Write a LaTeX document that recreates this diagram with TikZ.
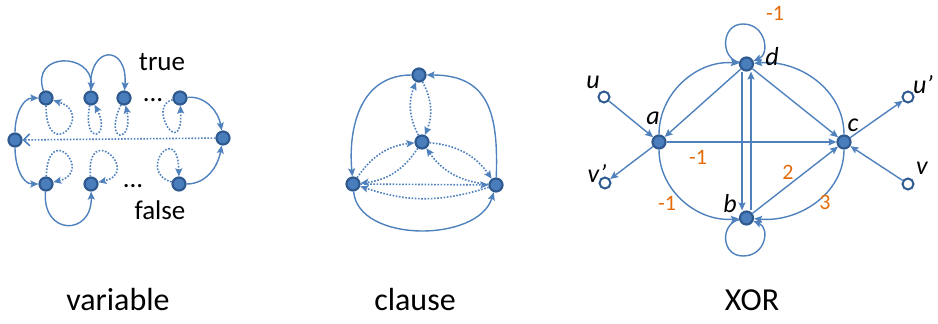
\documentclass[tikz,border=0pt]{standalone}
\usepackage{fontspec}
\setmainfont{Carlito}
\usetikzlibrary{arrows.meta}
\definecolor{edgeblue}{HTML}{4F81BD}
\definecolor{nodeline}{HTML}{2F5A8F}
\definecolor{nodefill}{HTML}{4A7DBB}
\definecolor{wt}{HTML}{E46C0A}
\begin{document}
\begin{tikzpicture}[x=1pt,y=1pt,
  vtx/.style={circle,draw=nodeline,fill=nodefill,line width=2.2pt,minimum size=13pt,inner sep=0pt},
  hol/.style={circle,draw=nodeline,fill=white,line width=2pt,minimum size=11pt,inner sep=0pt},
  arr/.style={draw=edgeblue,line width=1.4pt,-{Stealth[length=8pt,width=7pt,inset=1.5pt]}},
  dotarr/.style={arr,line width=1.6pt,dash pattern=on 1.6pt off 1.6pt},
  lab/.style={font=\fontsize{27}{30}\selectfont},
  biglab/.style={font=\fontsize{32}{36}\selectfont,anchor=base},
  itlab/.style={font=\fontsize{26}{30}\selectfont\itshape},
  wlab/.style={text=wt,font=\fontsize{22}{26}\selectfont},
]
\useasboundingbox (0,0) rectangle (938,324);

% ---------------- variable gadget ----------------
\node[vtx] (L) at (15,184) {};
\node[vtx] (T1) at (46,226) {};
\node[vtx] (T2) at (91,226) {};
\node[vtx] (T3) at (124,226) {};
\node[vtx] (T4) at (180,226) {};
\node[vtx] (R) at (223,186) {};
\node[vtx] (B1) at (46,140) {};
\node[vtx] (B2) at (91,140) {};
\node[vtx] (B4) at (179,140) {};

\draw[arr] (L) to[out=90,in=180] (T1);
\draw[arr] (L) to[out=-90,in=180] (B1);
\draw[arr] (T1) .. controls (30,272) and (92,272) .. (T2);
\draw[arr] (T2) .. controls (88,280) and (128,280) .. (T3);
\draw[arr] (T4) to[out=5,in=100] (R);
\draw[arr] (B4) to[out=0,in=-100] (R);
\draw[arr] (B1) .. controls (42,88) and (92,88) .. (B2);
\draw[dotarr,-{Straight Barb[length=6pt,width=12pt]}] (R) -- (L);

\draw[dotarr] (T1) .. controls (46,158) and (96,210) .. (T1);
\draw[dotarr] (T2) .. controls (82,176) and (112,186) .. (T2);
\draw[dotarr] (T3) .. controls (103,180) and (134,180) .. (T3);
\draw[dotarr] (T4) .. controls (146,218) and (183,162) .. (T4);
\draw[dotarr] (B1) .. controls (48,204) and (94,152) .. (B1);
\draw[dotarr] (B2) .. controls (86,204) and (142,152) .. (B2);
\draw[dotarr] (B4) .. controls (136,152) and (178,204) .. (B4);

\node[lab] (tru) at (162,262) {true};
\node[lab] (fal) at (160,114) {false};
\node[lab,anchor=base] (dt) at (153,222) {...};
\node[lab,anchor=base] (db) at (133,136) {...};
\node[biglab] (vl) at (118,13) {variable};

% ---------------- clause gadget ----------------
\node[vtx] (T) at (419,249) {};
\node[vtx] (C) at (422,182) {};
\node[vtx] (BL) at (353,140) {};
\node[vtx] (BR) at (496,139) {};
\draw[arr] (T) to[out=180,in=95,looseness=1.1] (BL);
\draw[arr] (BR) to[out=88,in=0,looseness=1.3] (T);
\draw[arr] (BL) .. controls (358,81) and (478,81) .. (BR);
\draw[dotarr] (C) to[bend left=25] (T);
\draw[dotarr] (T) to[bend left=25] (C);
\draw[dotarr] (BL) to[bend left=25] (C);
\draw[dotarr] (C) to[bend left=25] (BL);
\draw[dotarr] (C) to[bend left=25] (BR);
\draw[dotarr] (BR) to[bend left=25] (C);
\draw[dotarr] (BL) -- (BR);
\draw[dotarr] (BR) to[bend left=18] (BL);
\node[biglab] (cl) at (415,13) {clause};

% ---------------- XOR gadget ----------------
\node[vtx] (d) at (746.5,260) {};
\node[vtx] (a) at (659,182) {};
\node[vtx] (c) at (844,182) {};
\node[vtx] (b) at (746.5,106) {};
\node[hol] (u) at (604,227) {};
\node[hol] (vp) at (605,141) {};
\node[hol] (up) at (908,227) {};
\node[hol] (v) at (908,140) {};
\coordinate (dtop) at (743,300);
\coordinate (bbot) at (743,68);

\draw[arr] (a) to[out=90,in=175] (d);
\draw[arr] (c) to[out=90,in=5] (d);
\draw[arr] (a) to[out=-90,in=185] (b);
\draw[arr] (c) to[out=-90,in=-5] (b);
\draw[arr] (d) -- (a);
\draw[arr] (d) -- (c);
\draw[arr] (a) -- (c);
\draw[arr] (b) -- (c);
\draw[arr] ([xshift=-4.5pt]d.south) -- ([xshift=-4.5pt]b.north);
\draw[arr] ([xshift=4.5pt]b.north) -- ([xshift=4.5pt]d.south);
\draw[arr] (u) -- (a);
\draw[arr] (a) -- (vp);
\draw[arr] (c) -- (up);
\draw[arr] (v) -- (c);
\draw[arr] (d) .. controls (720,266) and (721,300) .. (dtop) .. controls (766,300) and (770,270) .. (d);
\draw[arr] (b) .. controls (720,100) and (721,68) .. (bbot) .. controls (766,68) and (770,96) .. (b);

\node[itlab] (lu) at (593,242) {u};
\node[itlab] (la) at (653,206) {a};
\node[itlab] (lvp) at (597,151) {v’};
\node[itlab] (ld) at (772,267) {d};
\node[itlab] (lc) at (853,199) {c};
\node[itlab] (lup) at (923,239) {u’};
\node[itlab] (lv) at (922,156) {v};
\node[itlab] (lb) at (730,120) {b};
\node[wlab] (w1) at (775,311) {-1};
\node[wlab] (w2) at (698,167) {-1};
\node[wlab] (w3) at (667,121) {-1};
\node[wlab] (w4) at (788,152) {2};
\node[wlab] (w5) at (825,122) {3};
\node[biglab] (xl) at (752,13) {XOR};
\end{tikzpicture}
\end{document}
